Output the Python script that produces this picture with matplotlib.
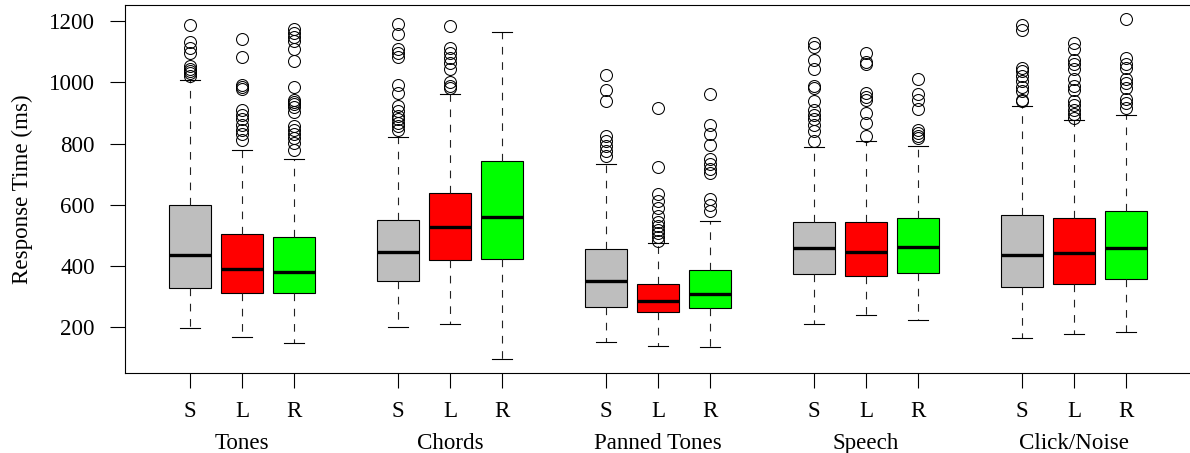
import matplotlib
matplotlib.use("Agg")
import matplotlib.pyplot as plt
import matplotlib.transforms as mtransforms

plt.rcParams['font.family'] = ['Liberation Serif', 'DejaVu Serif']
plt.rcParams['lines.scale_dashes'] = False

groups = ["Tones", "Chords", "Panned Tones", "Speech", "Click/Noise"]
sides = ["S", "L", "R"]
colors = ["#BEBEBE", "#FF0000", "#00FF00"]

# box stats, order: Tones S L R, Chords S L R, Panned S L R, Speech S L R, Click S L R
medians = [434, 390, 381, 444, 527, 560, 352, 285, 308, 459, 445, 463, 434, 441, 458]
q1 = [328, 310, 310, 352, 420, 422, 266, 250, 263, 373, 367, 378, 332, 341, 356]
q3 = [600, 504, 494, 549, 638, 743, 455, 341, 386, 543, 544, 555, 568, 556, 580]
whis_lo = [196, 166, 147, 201, 210, 95, 150, 139, 135, 211, 240, 223, 163, 178, 183]
whis_hi = [1007, 780, 751, 823, 962, 1165, 732, 474, 548, 790, 810, 793, 922, 876, 894]

outliers = [
    [1187, 1132, 1114, 1095, 1053, 1045, 1037, 1030, 1021],
    [1143, 1082, 991, 986, 979, 911, 895, 879, 862, 844, 830, 813],
    [1176, 1163, 1150, 1135, 1110, 1069, 986, 944, 935, 928, 920, 903, 857, 844, 832, 819, 802, 778],
    [1190, 1160, 1110, 1097, 1084, 993, 966, 922, 906, 892, 879, 868, 857, 846],
    [1185, 1114, 1097, 1081, 1064, 1043, 1001, 990, 983],
    [],
    [1023, 975, 939, 826, 808, 791, 775, 758],
    [917, 722, 635, 613, 589, 564, 542, 529, 518, 507, 494, 483],
    [961, 862, 832, 797, 750, 734, 717, 704, 619, 600, 578],
    [1130, 1116, 1075, 1043, 990, 983, 939, 911, 895, 879, 862, 840, 808],
    [1095, 1067, 1059, 964, 953, 944, 901, 866, 824],
    [1010, 961, 944, 914, 844, 835, 826, 819],
    [1187, 1172, 1048, 1037, 1021, 1004, 986, 972, 944, 939],
    [1130, 1108, 1075, 1059, 1043, 1010, 990, 977, 939, 925, 911, 898, 884],
    [1209, 1081, 1062, 1048, 1010, 999, 983, 946, 933, 917],
]

# positions like R: 1,2,3, 5,6,7, ...
positions = []
for g in range(len(groups)):
    for k in range(len(sides)):
        positions.append(g * 4 + k + 1)

stats = []
for i in range(len(medians)):
    stats.append(dict(med=medians[i], q1=q1[i], q3=q3[i],
                      whislo=whis_lo[i], whishi=whis_hi[i], fliers=outliers[i]))

fs = 16.6
fig = plt.figure(figsize=(11.9, 4.53), dpi=100)
ax = fig.add_axes([124.5 / 1190, 80.3 / 453, 1067 / 1190, 367.7 / 453])

bp = ax.bxp(stats, positions=positions, widths=0.8, capwidths=0.4,
            patch_artist=True, manage_ticks=False,
            boxprops=dict(linewidth=0.8, edgecolor='black'),
            medianprops=dict(color='black', linewidth=2.4, solid_capstyle='butt'),
            whiskerprops=dict(color='#222222', linewidth=0.8, linestyle=(0, (5.5, 5.5))),
            capprops=dict(color='black', linewidth=0.8),
            flierprops=dict(marker='o', markerfacecolor='none', markeredgecolor='black',
                            markersize=8.6, markeredgewidth=0.75, linestyle='none'))
for i, box in enumerate(bp['boxes']):
    box.set_facecolor(colors[i % 3])

# R style axis ranges (4% extension)
all_vals = whis_lo + whis_hi + [v for o in outliers for v in o]
lo, hi = min(all_vals), max(all_vals)
ext = (hi - lo) * 0.04
ax.set_ylim(lo - ext, hi + ext)
ax.set_xlim(0.5 - 0.04 * 19, 19.5 + 0.04 * 19)

ax.set_yticks([200, 400, 600, 800, 1000, 1200])
ax.tick_params(axis='y', direction='out', length=10.5, width=0.8, pad=11, labelsize=fs)
ax.set_xticks(positions)
ax.set_xticklabels(sides * len(groups))
ax.tick_params(axis='x', direction='out', length=10.5, width=0.8, pad=10, labelsize=fs)
for sp in ax.spines.values():
    sp.set_linewidth(0.8)

ax.set_ylabel("Response Time (ms)", fontsize=fs, labelpad=11)

trans = mtransforms.blended_transform_factory(ax.transData, ax.transAxes)
for g, name in enumerate(groups):
    ax.annotate(name, xy=(g * 4 + 2, 0), xycoords=trans, xytext=(0, -51),
                textcoords='offset points', ha='center', va='center', fontsize=fs)

fig.savefig("out.png", dpi=100)
